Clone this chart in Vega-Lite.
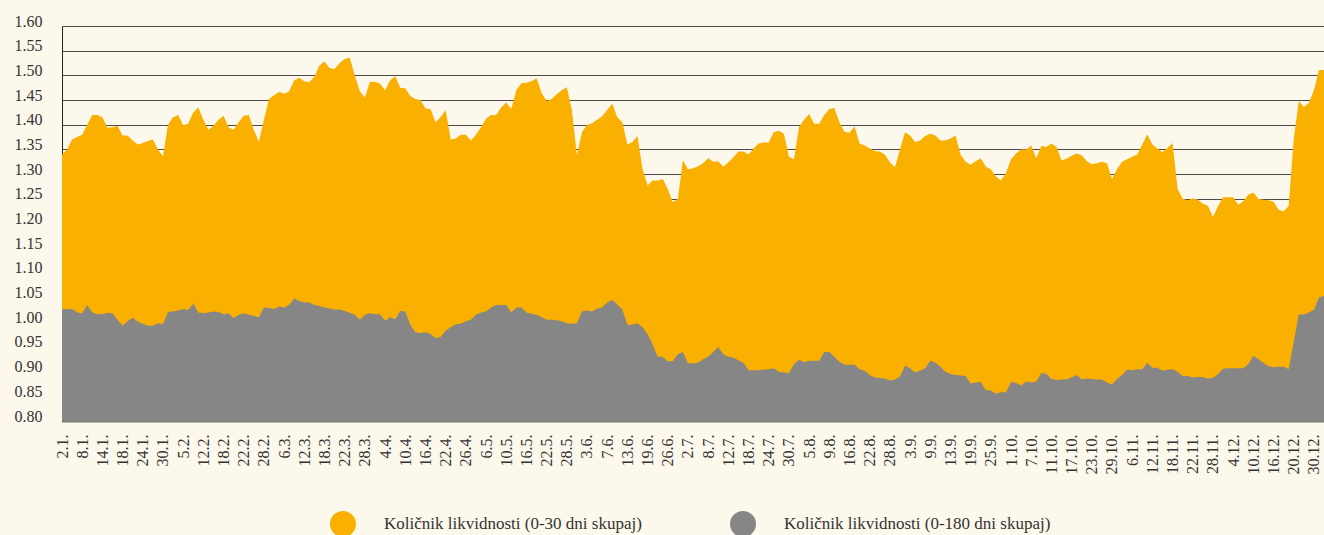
{
"$schema": "https://vega.github.io/schema/vega-lite/v6.json",
"width": 1262, "height": 395,
"autosize": {"type": "none"},
"padding": {"left": 62, "top": 26, "right": 0, "bottom": 114},
"background": "#fdf8ec",
"config": {"view": {"stroke": null}, "font": "Liberation Serif"},
"data": {"values": [
{"n":0,"a":1.34,"b":1.026},{"n":1,"a":1.35,"b":1.027},{"n":2,"a":1.37,"b":1.027},{"n":3,"a":1.375,"b":1.02},{"n":4,"a":1.38,"b":1.018},
{"n":5,"a":1.40,"b":1.035},{"n":6,"a":1.42,"b":1.02},{"n":7,"a":1.42,"b":1.016},{"n":8,"a":1.415,"b":1.016},{"n":9,"a":1.394,"b":1.019},
{"n":10,"a":1.395,"b":1.018},{"n":11,"a":1.398,"b":1.005},{"n":12,"a":1.378,"b":0.993},{"n":13,"a":1.378,"b":1.002},{"n":14,"a":1.368,"b":1.009},
{"n":15,"a":1.36,"b":1.001},{"n":16,"a":1.363,"b":0.997},{"n":17,"a":1.367,"b":0.993},{"n":18,"a":1.37,"b":0.993},{"n":19,"a":1.35,"b":0.998},
{"n":20,"a":1.336,"b":0.996},{"n":21,"a":1.40,"b":1.021},{"n":22,"a":1.415,"b":1.022},{"n":23,"a":1.42,"b":1.024},{"n":24,"a":1.399,"b":1.027},
{"n":25,"a":1.402,"b":1.025},{"n":26,"a":1.425,"b":1.038},{"n":27,"a":1.435,"b":1.02},{"n":28,"a":1.41,"b":1.018},{"n":29,"a":1.39,"b":1.02},
{"n":30,"a":1.398,"b":1.022},{"n":31,"a":1.41,"b":1.021},{"n":32,"a":1.418,"b":1.016},{"n":33,"a":1.395,"b":1.018},{"n":34,"a":1.39,"b":1.008},
{"n":35,"a":1.405,"b":1.015},{"n":36,"a":1.418,"b":1.018},{"n":37,"a":1.42,"b":1.015},{"n":38,"a":1.39,"b":1.013},{"n":39,"a":1.365,"b":1.01},
{"n":40,"a":1.41,"b":1.03},{"n":41,"a":1.452,"b":1.029},{"n":42,"a":1.46,"b":1.027},{"n":43,"a":1.467,"b":1.032},{"n":44,"a":1.463,"b":1.03},
{"n":45,"a":1.468,"b":1.035},{"n":46,"a":1.49,"b":1.048},{"n":47,"a":1.495,"b":1.043},{"n":48,"a":1.488,"b":1.04},{"n":49,"a":1.486,"b":1.04},
{"n":50,"a":1.497,"b":1.035},{"n":51,"a":1.52,"b":1.033},{"n":52,"a":1.528,"b":1.03},{"n":53,"a":1.515,"b":1.028},{"n":54,"a":1.513,"b":1.026},
{"n":55,"a":1.525,"b":1.026},{"n":56,"a":1.533,"b":1.023},{"n":57,"a":1.536,"b":1.019},{"n":58,"a":1.50,"b":1.015},{"n":59,"a":1.468,"b":1.005},
{"n":60,"a":1.455,"b":1.015},{"n":61,"a":1.487,"b":1.018},{"n":62,"a":1.487,"b":1.016},{"n":63,"a":1.483,"b":1.016},{"n":64,"a":1.47,"b":1.003},
{"n":65,"a":1.49,"b":1.01},{"n":66,"a":1.498,"b":1.006},{"n":67,"a":1.475,"b":1.023},{"n":68,"a":1.474,"b":1.022},{"n":69,"a":1.458,"b":0.995},
{"n":70,"a":1.452,"b":0.98},{"n":71,"a":1.45,"b":0.978},{"n":72,"a":1.433,"b":0.98},{"n":73,"a":1.432,"b":0.976},{"n":74,"a":1.405,"b":0.968},
{"n":75,"a":1.415,"b":0.97},{"n":76,"a":1.43,"b":0.983},{"n":77,"a":1.37,"b":0.99},{"n":78,"a":1.372,"b":0.996},{"n":79,"a":1.38,"b":0.997},
{"n":80,"a":1.38,"b":1.002},{"n":81,"a":1.368,"b":1.005},{"n":82,"a":1.38,"b":1.015},{"n":83,"a":1.395,"b":1.02},{"n":84,"a":1.412,"b":1.022},
{"n":85,"a":1.42,"b":1.03},{"n":86,"a":1.42,"b":1.035},{"n":87,"a":1.435,"b":1.035},{"n":88,"a":1.445,"b":1.035},{"n":89,"a":1.432,"b":1.02},
{"n":90,"a":1.47,"b":1.03},{"n":91,"a":1.484,"b":1.03},{"n":92,"a":1.485,"b":1.02},{"n":93,"a":1.488,"b":1.017},{"n":94,"a":1.494,"b":1.015},
{"n":95,"a":1.465,"b":1.01},{"n":96,"a":1.448,"b":1.005},{"n":97,"a":1.452,"b":1.005},{"n":98,"a":1.462,"b":1.004},{"n":99,"a":1.47,"b":1.002},
{"n":100,"a":1.476,"b":0.998},{"n":101,"a":1.43,"b":0.997},{"n":102,"a":1.338,"b":0.998},{"n":103,"a":1.385,"b":1.022},{"n":104,"a":1.40,"b":1.024},
{"n":105,"a":1.403,"b":1.022},{"n":106,"a":1.41,"b":1.028},{"n":107,"a":1.417,"b":1.03},{"n":108,"a":1.43,"b":1.04},{"n":109,"a":1.443,"b":1.045},
{"n":110,"a":1.415,"b":1.036},{"n":111,"a":1.405,"b":1.026},{"n":112,"a":1.36,"b":0.995},{"n":113,"a":1.365,"b":0.995},{"n":114,"a":1.377,"b":0.998},
{"n":115,"a":1.31,"b":0.99},{"n":116,"a":1.277,"b":0.976},{"n":117,"a":1.287,"b":0.955},{"n":118,"a":1.287,"b":0.93},{"n":119,"a":1.29,"b":0.93},
{"n":120,"a":1.27,"b":0.921},{"n":121,"a":1.243,"b":0.921},{"n":122,"a":1.25,"b":0.935},{"n":123,"a":1.328,"b":0.94},{"n":124,"a":1.31,"b":0.917},
{"n":125,"a":1.312,"b":0.917},{"n":126,"a":1.316,"b":0.918},{"n":127,"a":1.322,"b":0.925},{"n":128,"a":1.332,"b":0.93},{"n":129,"a":1.325,"b":0.94},
{"n":130,"a":1.326,"b":0.95},{"n":131,"a":1.315,"b":0.935},{"n":132,"a":1.324,"b":0.93},{"n":133,"a":1.334,"b":0.928},{"n":134,"a":1.346,"b":0.923},
{"n":135,"a":1.346,"b":0.918},{"n":136,"a":1.34,"b":0.903},{"n":137,"a":1.352,"b":0.903},{"n":138,"a":1.362,"b":0.903},{"n":139,"a":1.364,"b":0.904},
{"n":140,"a":1.364,"b":0.905},{"n":141,"a":1.385,"b":0.907},{"n":142,"a":1.388,"b":0.9},{"n":143,"a":1.382,"b":0.898},{"n":144,"a":1.335,"b":0.897},
{"n":145,"a":1.33,"b":0.915},{"n":146,"a":1.395,"b":0.924},{"n":147,"a":1.41,"b":0.919},{"n":148,"a":1.422,"b":0.922},{"n":149,"a":1.402,"b":0.922},
{"n":150,"a":1.402,"b":0.922},{"n":151,"a":1.42,"b":0.94},{"n":152,"a":1.432,"b":0.94},{"n":153,"a":1.434,"b":0.93},{"n":154,"a":1.405,"b":0.92},
{"n":155,"a":1.386,"b":0.914},{"n":156,"a":1.384,"b":0.914},{"n":157,"a":1.397,"b":0.914},{"n":158,"a":1.362,"b":0.905},{"n":159,"a":1.358,"b":0.902},
{"n":160,"a":1.352,"b":0.893},{"n":161,"a":1.347,"b":0.888},{"n":162,"a":1.346,"b":0.887},{"n":163,"a":1.34,"b":0.886},{"n":164,"a":1.324,"b":0.882},
{"n":165,"a":1.314,"b":0.884},{"n":166,"a":1.35,"b":0.89},{"n":167,"a":1.385,"b":0.912},{"n":168,"a":1.378,"b":0.907},{"n":169,"a":1.365,"b":0.898},
{"n":170,"a":1.368,"b":0.902},{"n":171,"a":1.377,"b":0.907},{"n":172,"a":1.382,"b":0.922},{"n":173,"a":1.378,"b":0.918},{"n":174,"a":1.368,"b":0.91},
{"n":175,"a":1.368,"b":0.9},{"n":176,"a":1.372,"b":0.895},{"n":177,"a":1.378,"b":0.893},{"n":178,"a":1.34,"b":0.892},{"n":179,"a":1.325,"b":0.891},
{"n":180,"a":1.319,"b":0.876},{"n":181,"a":1.326,"b":0.878},{"n":182,"a":1.332,"b":0.879},{"n":183,"a":1.315,"b":0.863},{"n":184,"a":1.31,"b":0.862},
{"n":185,"a":1.295,"b":0.855},{"n":186,"a":1.287,"b":0.858},{"n":187,"a":1.303,"b":0.858},{"n":188,"a":1.33,"b":0.879},{"n":189,"a":1.342,"b":0.877},
{"n":190,"a":1.35,"b":0.872},{"n":191,"a":1.35,"b":0.88},{"n":192,"a":1.358,"b":0.878},{"n":193,"a":1.332,"b":0.88},{"n":194,"a":1.357,"b":0.897},
{"n":195,"a":1.355,"b":0.895},{"n":196,"a":1.362,"b":0.885},{"n":197,"a":1.355,"b":0.883},{"n":198,"a":1.328,"b":0.884},{"n":199,"a":1.331,"b":0.884},
{"n":200,"a":1.337,"b":0.888},{"n":201,"a":1.342,"b":0.893},{"n":202,"a":1.338,"b":0.884},{"n":203,"a":1.326,"b":0.886},{"n":204,"a":1.32,"b":0.885},
{"n":205,"a":1.322,"b":0.884},{"n":206,"a":1.325,"b":0.884},{"n":207,"a":1.322,"b":0.878},{"n":208,"a":1.29,"b":0.874},{"n":209,"a":1.31,"b":0.885},
{"n":210,"a":1.325,"b":0.893},{"n":211,"a":1.33,"b":0.904},{"n":212,"a":1.335,"b":0.903},{"n":213,"a":1.34,"b":0.905},{"n":214,"a":1.36,"b":0.905},
{"n":215,"a":1.381,"b":0.918},{"n":216,"a":1.36,"b":0.908},{"n":217,"a":1.352,"b":0.908},{"n":218,"a":1.345,"b":0.902},{"n":219,"a":1.353,"b":0.904},
{"n":220,"a":1.363,"b":0.905},{"n":221,"a":1.27,"b":0.9},{"n":222,"a":1.25,"b":0.891},{"n":223,"a":1.247,"b":0.891},{"n":224,"a":1.251,"b":0.888},
{"n":225,"a":1.248,"b":0.889},{"n":226,"a":1.24,"b":0.889},{"n":227,"a":1.236,"b":0.886},{"n":228,"a":1.213,"b":0.887},{"n":229,"a":1.235,"b":0.895},
{"n":230,"a":1.253,"b":0.906},{"n":231,"a":1.253,"b":0.907},{"n":232,"a":1.253,"b":0.907},{"n":233,"a":1.238,"b":0.907},{"n":234,"a":1.245,"b":0.907},
{"n":235,"a":1.258,"b":0.915},{"n":236,"a":1.263,"b":0.932},{"n":237,"a":1.25,"b":0.925},{"n":238,"a":1.248,"b":0.918},{"n":239,"a":1.247,"b":0.911},
{"n":240,"a":1.244,"b":0.909},{"n":241,"a":1.228,"b":0.91},{"n":242,"a":1.225,"b":0.91},{"n":243,"a":1.235,"b":0.905},{"n":244,"a":1.37,"b":0.96},
{"n":245,"a":1.448,"b":1.016},{"n":246,"a":1.436,"b":1.015},{"n":247,"a":1.444,"b":1.02},{"n":248,"a":1.47,"b":1.025},{"n":249,"a":1.511,"b":1.05},
{"n":250,"a":1.511,"b":1.053}
]},
"transform": [{"fold": ["a", "b"], "as": ["s", "v"]}],
"mark": {"type": "area", "interpolate": "linear"},
"encoding": {
  "x": {"field": "n", "type": "quantitative",
    "scale": {"domain": [0, 250], "nice": false, "zero": false},
    "axis": {"values": [0,4,8,12,16,20,24,28,32,36,40,44,48,52,56,60,64,68,72,76,80,84,88,92,96,100,104,108,112,116,120,124,128,132,136,140,144,148,152,156,160,164,168,172,176,180,184,188,192,196,200,204,208,212,216,220,224,228,232,236,240,244,248],
      "labelExpr": "['2.1.','8.1.','14.1.','18.1.','24.1.','30.1.','5.2.','12.2.','18.2.','22.2.','28.2.','6.3.','12.3.','18.3.','22.3.','28.3.','4.4.','10.4.','16.4.','22.4.','26.4.','6.5.','10.5.','16.5.','22.5.','28.5.','3.6.','7.6.','13.6.','19.6.','26.6.','2.7.','8.7.','12.7.','18.7.','24.7.','30.7.','5.8.','9.8.','16.8.','22.8.','28.8.','3.9.','9.9.','13.9.','19.9.','25.9.','1.10.','7.10.','11.10.','17.10.','23.10.','29.10.','6.11.','12.11.','18.11.','22.11.','28.11.','4.12.','10.12.','16.12.','20.12.','30.12.'][round(datum.value/4)]",
      "labelAngle": 270, "labelAlign": "right", "labelBaseline": "middle",
      "labelFontSize": 16, "labelColor": "#333333", "labelPadding": 13,
      "labelOverlap": false, "labelFlush": false, "labelBound": false,
      "ticks": false, "grid": false, "domainColor": "#777777", "domainWidth": 2, "title": null}},
  "y": {"field": "v", "type": "quantitative", "stack": null,
    "scale": {"domain": [0.8, 1.6], "nice": false, "zero": false},
    "axis": {"values": [0.8,0.85,0.9,0.95,1.0,1.05,1.1,1.15,1.2,1.25,1.3,1.35,1.4,1.45,1.5,1.55,1.6],
      "format": ".2f", "ticks": false, "labelPadding": 20, "labelBaseline": "alphabetic",
      "labelFontSize": 16, "labelColor": "#333333", "labelFlush": false, "labelOverlap": false,
      "gridColor": "#4a4a4a", "gridWidth": 1, "domainColor": "#222222", "domainWidth": 1, "title": null}},
  "y2": {"datum": 0.8},
  "color": {"field": "s", "type": "nominal",
    "scale": {"domain": ["a", "b"], "range": ["#f9b000", "#868686"]},
    "legend": {"orient": "none", "legendX": 268, "legendY": 485, "direction": "horizontal",
      "title": null, "symbolType": "circle", "symbolSize": 676, "symbolStrokeWidth": 0,
      "labelFontSize": 17, "labelColor": "#333333", "labelOffset": 28, "columnPadding": 88,
      "padding": 0, "labelLimit": 0,
      "labelExpr": "datum.value == 'a' ? 'Količnik likvidnosti (0-30 dni skupaj)' : 'Količnik likvidnosti (0-180 dni skupaj)'"}}
}
}
